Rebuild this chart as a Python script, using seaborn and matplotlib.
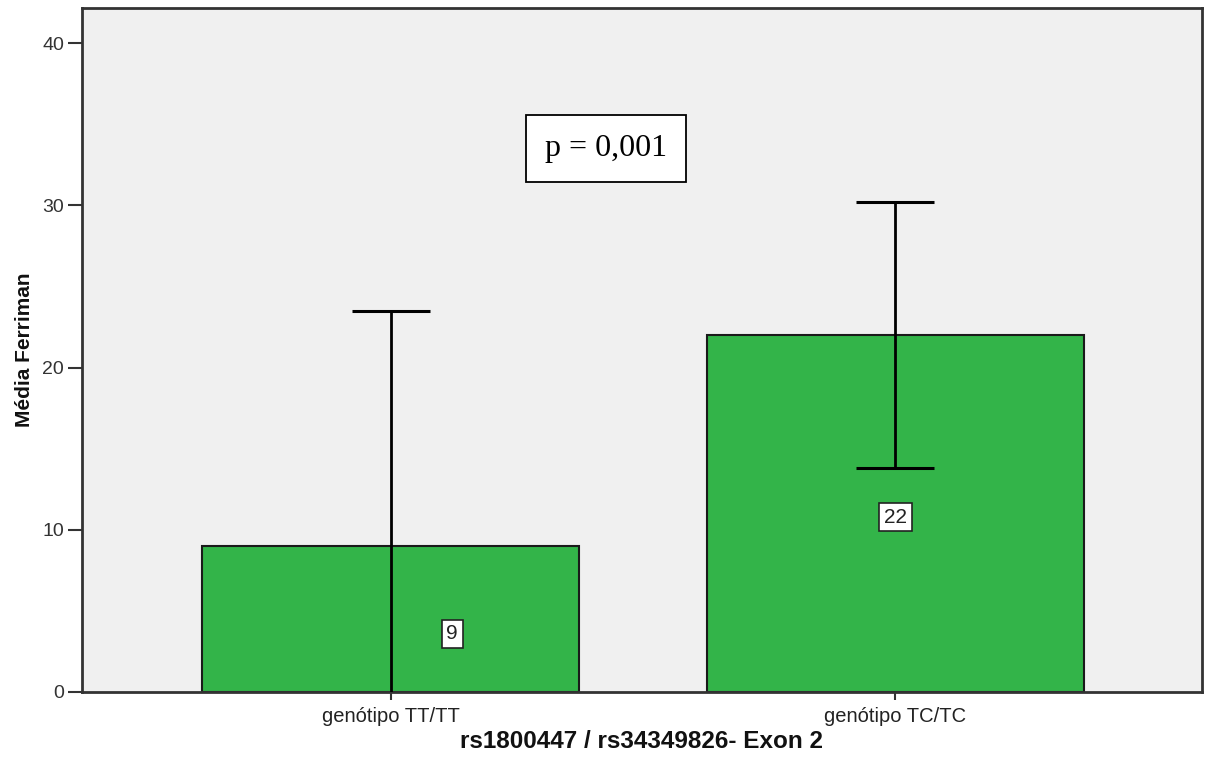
import matplotlib
matplotlib.use("Agg")
import matplotlib.pyplot as plt
import seaborn as sns
import numpy as np
import pandas as pd

# Mean Ferriman score per genotype with 95% CI bounds and group sizes
genotypes = ["genótipo TT/TT", "genótipo TC/TC"]
mean_ferriman = [9.0, 22.0]
ci_lower = [-5.5, 13.8]
ci_upper = [23.5, 30.2]
group_n = [9, 22]
p_text = "p = 0,001"

sns.set_style("white")
plt.rcParams["font.family"] = ["Liberation Sans", "DejaVu Sans"]

W, H = 1205, 757
fig = plt.figure(figsize=(W / 100, H / 100), dpi=100)
ax = fig.add_axes([82 / W, 1 - 692 / H, (1202 - 82) / W, (692 - 8) / H])
ax.set_facecolor("#F0F0F0")

df = pd.DataFrame({"genotype": genotypes, "mean": mean_ferriman})
sns.barplot(data=df, x="genotype", y="mean", color="#33B449", saturation=1,
            width=0.747, edgecolor="#1a1a1a", linewidth=1.5, errorbar=None,
            ax=ax, zorder=2)

means = np.array(mean_ferriman)
yerr = np.vstack([means - np.array(ci_lower), np.array(ci_upper) - means])
ax.errorbar(np.arange(len(genotypes)), means, yerr=yerr, fmt="none",
            ecolor="black", elinewidth=2, capsize=28, capthick=2.2, zorder=3)

# group size labels inside the bars
label_dx = [0.122, 0.0]
label_frac = [0.40, 0.49]
for i, n in enumerate(group_n):
    ax.text(i + label_dx[i], mean_ferriman[i] * label_frac[i], str(n),
            ha="center", va="center", fontsize=15, color="#222222", zorder=4,
            bbox=dict(boxstyle="square,pad=0.22", fc="white", ec="#222222", lw=1.2))

# significance annotation
ax.text(0.4265, 33.5, p_text, ha="center", va="center", fontsize=23,
        family=["Liberation Serif", "DejaVu Serif"], color="black", zorder=5,
        bbox=dict(boxstyle="square,pad=0.6", fc="white", ec="black", lw=1.3))

ax.set_xlim(-0.611, 1.607)
ax.set_ylim(0, 42.16)
ax.set_yticks([0, 10, 20, 30, 40])

for side in ["left", "right", "top", "bottom"]:
    ax.spines[side].set_visible(True)
    ax.spines[side].set_color("#333333")
    ax.spines[side].set_linewidth(2)

ax.tick_params(axis="y", which="major", left=True, length=10, width=1.5,
               color="#333333", labelsize=14, labelcolor="#333333", pad=3)
ax.tick_params(axis="x", which="major", bottom=True, length=6, width=1.5,
               color="#333333", labelsize=14.5, labelcolor="#222222", pad=5)

ax.set_xlabel("rs1800447 / rs34349826- Exon 2", fontsize=17.5, fontweight="bold",
              color="#111111", labelpad=3)
ax.set_ylabel("Média Ferriman", fontsize=15, fontweight="bold",
              family=["Liberation Sans Narrow", "Liberation Sans", "DejaVu Sans"],
              color="#111111", labelpad=6)

fig.savefig("out.png", dpi=100)
